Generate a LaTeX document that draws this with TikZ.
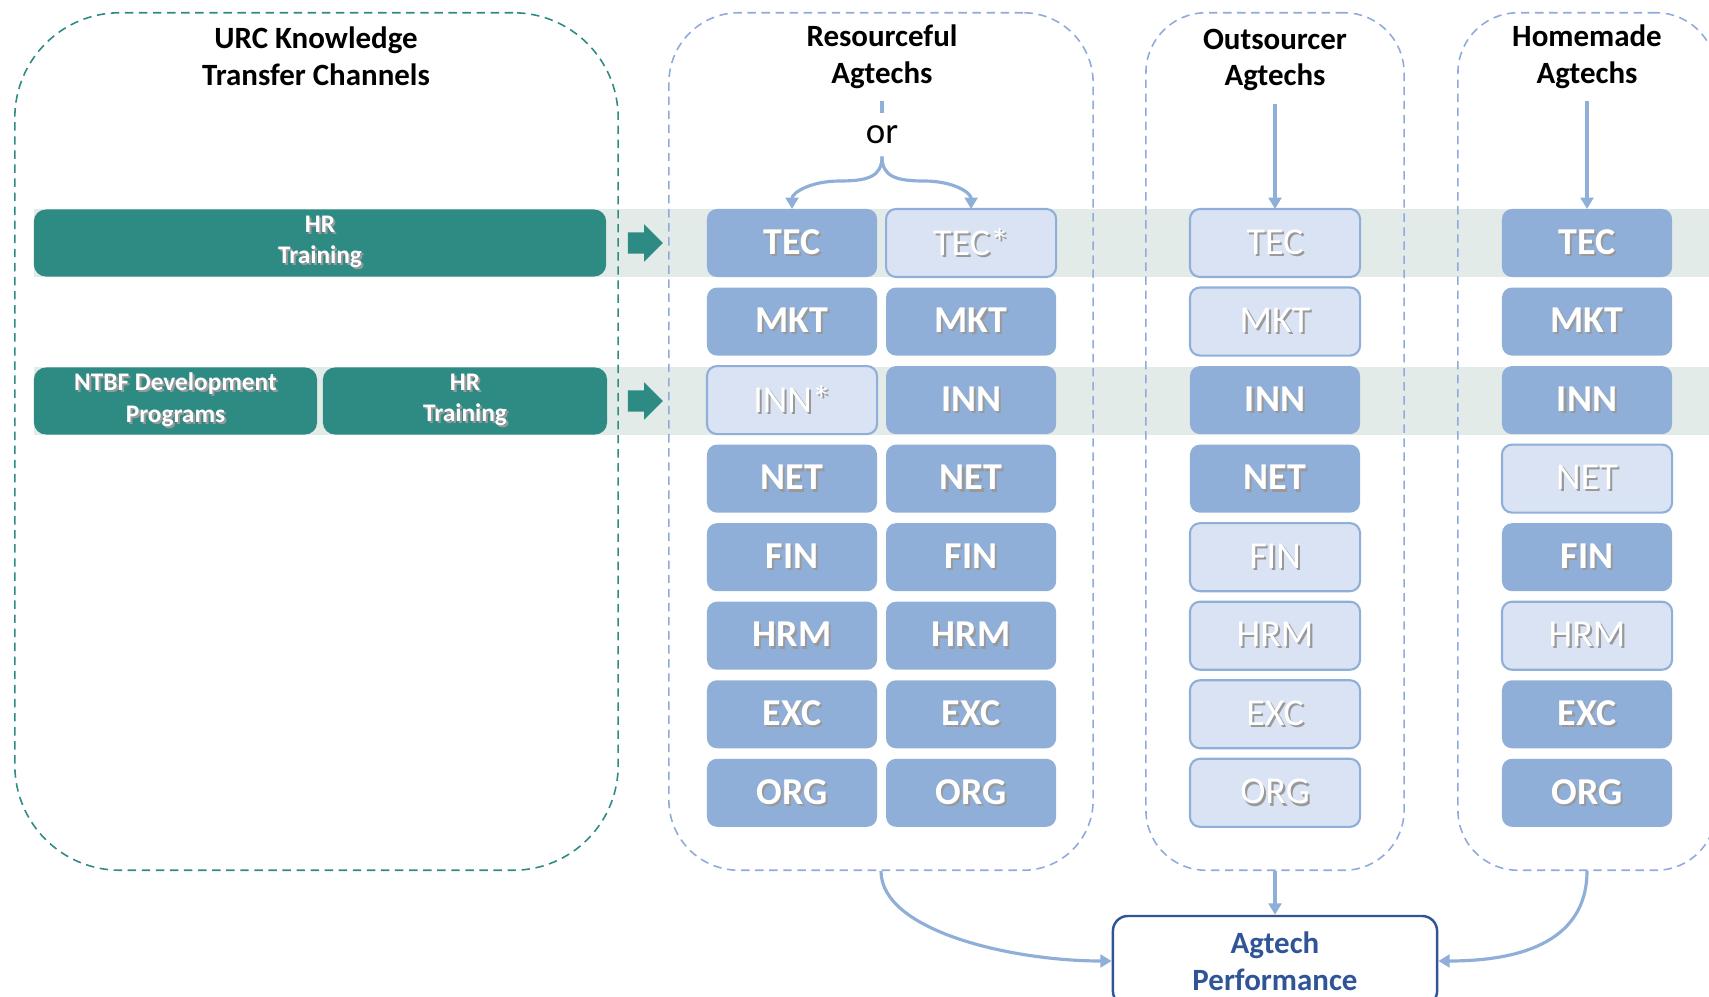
\documentclass[tikz,border=0pt]{standalone}
\usepackage{fontspec}
\setmainfont{Carlito}
\usetikzlibrary{positioning,shapes.arrows,arrows.meta}
\definecolor{urcteal}{RGB}{46,139,132}
\definecolor{capblue}{RGB}{143,175,216}
\definecolor{caplight}{RGB}{218,227,243}
\definecolor{frameblue}{RGB}{143,170,220}
\definecolor{bandgrey}{RGB}{227,235,233}
\definecolor{perfblue}{RGB}{47,85,151}
\newcommand{\shd}[1]{\rlap{\hspace{0.6pt}\raisebox{-0.6pt}{\textcolor{black!40}{#1}}}#1}

\begin{document}
\begin{tikzpicture}[x=0.01cm, y=-0.01cm,
        node distance=0.105cm,
        groupframe/.style={draw, dash pattern=on 2.4pt off 1.6pt, line width=0.45pt},
        grouptitle/.style={align=center, font=\fontsize{8.8}{10.5}\selectfont\bfseries},
        cbox/.style={rectangle, rounded corners=0.1cm, fill=capblue, text=white, minimum width=1.7cm, minimum height=0.68cm, inner sep=0pt, outer sep=0pt, font=\fontsize{10.8}{13}\selectfont\bfseries},
        cboxoff/.style={cbox, fill=caplight, draw=capblue, line width=0.6pt, font=\fontsize{10.8}{13}\selectfont},
        channel/.style={rectangle, rounded corners=0.12cm, fill=urcteal, text=white, align=center, minimum height=0.67cm, inner sep=0pt, outer sep=0pt, font=\fontsize{7.2}{9}\selectfont\bfseries},
        pusharrow/.style={single arrow, fill=urcteal, minimum height=0.35cm, single arrow head extend=0.08cm, inner sep=0.1cm, single arrow head indent=0pt},
        flow/.style={capblue, line width=0.9pt, -{Triangle[length=3.2pt, width=3.6pt]}}
    ]
    \useasboundingbox (0,0) rectangle (1709,997);
    \fill[bandgrey] (34,209) rectangle (1709,277);
    \fill[bandgrey] (34,367) rectangle (1709,435);

    \node[groupframe, urcteal, rounded corners=1.05cm, minimum width=6.03cm, minimum height=8.57cm] (urc) at (316.5,441.5) {};
    \node[groupframe, frameblue, rounded corners=0.7cm, minimum width=4.24cm, minimum height=8.57cm] (res) at (881,441.5) {};
    \node[groupframe, frameblue, rounded corners=0.6cm, minimum width=2.58cm, minimum height=8.57cm] (out) at (1275,441.5) {};
    \node[groupframe, frameblue, rounded corners=0.6cm, minimum width=2.58cm, minimum height=8.57cm] (hom) at (1587,441.5) {};

    \node[grouptitle] (urc-t) at (316,56) {URC Knowledge\\Transfer Channels};
    \node[grouptitle] (res-t) at (882,57) {Resourceful\\Agtechs};
    \node[grouptitle] (out-t) at (1275,60) {Outsourcer\\Agtechs};
    \node[grouptitle] (hom-t) at (1587,57) {Homemade\\Agtechs};
    \node[font=\fontsize{10.5}{12}\selectfont] (or) at (882,135) {or};

    \node[channel, minimum width=5.72cm] (hr1) at (320,243) {\shd{HR}\\\shd{Training}};
    \node[channel, minimum width=2.83cm] (ntbf) at (175.5,401) {\shd{NTBF Development}\\\shd{Programs}};
    \node[channel, minimum width=2.84cm] (hr2) at (465,401) {\shd{HR}\\\shd{Training}};
    \node[pusharrow] (push1) at (640,243) {};
    \node[pusharrow] (push2) at (640,401) {};

    \node[cbox] (rl1) at (792,243) {\shd{TEC}};
    \node[cbox, below=of rl1] (rl2) {\shd{MKT}};
    \node[cboxoff, below=of rl2] (rl3) {\shd{INN*}};
    \node[cbox, below=of rl3] (rl4) {\shd{NET}};
    \node[cbox, below=of rl4] (rl5) {\shd{FIN}};
    \node[cbox, below=of rl5] (rl6) {\shd{HRM}};
    \node[cbox, below=of rl6] (rl7) {\shd{EXC}};
    \node[cbox, below=of rl7] (rl8) {\shd{ORG}};

    \node[cboxoff, right=0.09cm of rl1] (rr1) {\shd{TEC*}};
    \node[cbox, below=of rr1] (rr2) {\shd{MKT}};
    \node[cbox, below=of rr2] (rr3) {\shd{INN}};
    \node[cbox, below=of rr3] (rr4) {\shd{NET}};
    \node[cbox, below=of rr4] (rr5) {\shd{FIN}};
    \node[cbox, below=of rr5] (rr6) {\shd{HRM}};
    \node[cbox, below=of rr6] (rr7) {\shd{EXC}};
    \node[cbox, below=of rr7] (rr8) {\shd{ORG}};

    \node[cboxoff] (o1) at (1275,243) {\shd{TEC}};
    \node[cboxoff, below=of o1] (o2) {\shd{MKT}};
    \node[cbox, below=of o2] (o3) {\shd{INN}};
    \node[cbox, below=of o3] (o4) {\shd{NET}};
    \node[cboxoff, below=of o4] (o5) {\shd{FIN}};
    \node[cboxoff, below=of o5] (o6) {\shd{HRM}};
    \node[cboxoff, below=of o6] (o7) {\shd{EXC}};
    \node[cboxoff, below=of o7] (o8) {\shd{ORG}};

    \node[cbox] (h1) at (1587,243) {\shd{TEC}};
    \node[cbox, below=of h1] (h2) {\shd{MKT}};
    \node[cbox, below=of h2] (h3) {\shd{INN}};
    \node[cboxoff, below=of h3] (h4) {\shd{NET}};
    \node[cbox, below=of h4] (h5) {\shd{FIN}};
    \node[cboxoff, below=of h5] (h6) {\shd{HRM}};
    \node[cbox, below=of h6] (h7) {\shd{EXC}};
    \node[cbox, below=of h7] (h8) {\shd{ORG}};

    \node[draw=perfblue, line width=0.7pt, rounded corners=0.15cm, minimum width=3.24cm, minimum height=0.9cm, align=center, text=perfblue, font=\fontsize{8.8}{10.5}\selectfont\bfseries] (perf) at (1275,961) {Agtech\\Performance};

    \coordinate (brl) at (840,181);
    \coordinate (brr) at (924,181);
    \draw[capblue, line width=0.9pt] (res-t.south) -- (or.north);
    \draw[flow] (or.south) .. controls +(0,20) and +(28,0) .. (brl) .. controls +(-30,0) and +(0,-16) .. (rl1.north);
    \draw[flow] (or.south) .. controls +(0,20) and +(-28,0) .. (brr) .. controls +(30,0) and +(0,-16) .. (rr1.north);
    \draw[flow] (out-t.south) -- (o1.north);
    \draw[flow] (hom-t.south) -- (h1.north);
    \draw[flow] (res.south) .. controls +(0,60) and +(-100,0) .. (perf.west);
    \draw[flow] (out.south) -- (perf.north);
    \draw[flow] (hom.south) .. controls +(0,60) and +(100,0) .. (perf.east);
\end{tikzpicture}
\end{document}
